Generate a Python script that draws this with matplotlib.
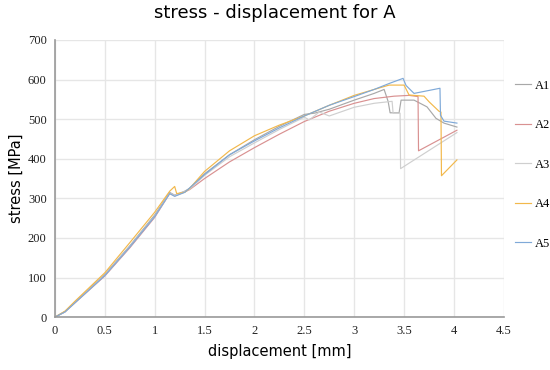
import matplotlib
matplotlib.use("Agg")
import matplotlib.pyplot as plt

# ---- data ----
labels = ["A1", "A2", "A3", "A4", "A5"]
colors = ["#a8a8a8", "#d99191", "#cfcfcf", "#f2b84b", "#7fa9d8"]

a1_x = [0, 0.1, 0.2, 0.5, 0.75, 1.0, 1.15, 1.2, 1.3, 1.35, 1.5, 1.75, 2.0, 2.25, 2.5, 2.6, 2.75, 3.0, 3.2, 3.3, 3.34, 3.36, 3.45, 3.47, 3.6, 3.73, 3.82, 3.9, 4.03]
a1_y = [0, 14, 38, 108, 180, 258, 315, 308, 318, 325, 362, 410, 448, 482, 512, 515, 525, 548, 565, 575, 545, 516, 516, 548, 548, 531, 502, 490, 480]

a2_x = [0, 0.1, 0.2, 0.5, 0.75, 1.0, 1.15, 1.2, 1.3, 1.35, 1.5, 1.75, 2.0, 2.25, 2.5, 2.75, 3.0, 3.2, 3.4, 3.55, 3.64, 3.645, 4.03]
a2_y = [0, 13, 36, 104, 175, 252, 312, 306, 316, 322, 350, 392, 428, 462, 494, 520, 540, 552, 558, 560, 557, 420, 472]

a3_x = [0, 0.1, 0.2, 0.5, 0.75, 1.0, 1.15, 1.2, 1.3, 1.35, 1.5, 1.75, 2.0, 2.25, 2.5, 2.55, 2.65, 2.75, 3.0, 3.2, 3.38, 3.39, 3.46, 3.465, 4.03]
a3_y = [0, 13, 37, 106, 178, 255, 313, 307, 317, 323, 358, 405, 440, 474, 505, 498, 518, 508, 530, 540, 545, 515, 515, 375, 466]

a4_x = [0, 0.1, 0.2, 0.5, 0.75, 1.0, 1.15, 1.2, 1.22, 1.3, 1.35, 1.5, 1.75, 2.0, 2.25, 2.5, 2.75, 3.0, 3.2, 3.35, 3.5, 3.55, 3.7, 3.75, 3.8, 3.85, 3.87, 3.875, 4.03]
a4_y = [0, 15, 40, 112, 188, 265, 318, 330, 312, 315, 325, 368, 420, 458, 485, 508, 535, 560, 575, 586, 586, 561, 558, 544, 532, 520, 518, 357, 397]

a5_x = [0, 0.1, 0.2, 0.5, 0.75, 1.0, 1.15, 1.2, 1.3, 1.5, 1.75, 2.0, 2.25, 2.5, 2.75, 3.0, 3.2, 3.35, 3.49, 3.52, 3.58, 3.6, 3.86, 3.865, 3.9, 4.03]
a5_y = [0, 13, 36, 105, 177, 254, 312, 305, 315, 360, 410, 445, 478, 508, 535, 557, 575, 590, 603, 585, 570, 565, 578, 510, 495, 490]

xs = [a1_x, a2_x, a3_x, a4_x, a5_x]
ys = [a1_y, a2_y, a3_y, a4_y, a5_y]

x_ticks = [0, 0.5, 1, 1.5, 2, 2.5, 3, 3.5, 4, 4.5]
x_ticklabels = ["0", "0.5", "1", "1.5", "2", "2.5", "3", "3.5", "4", "4.5"]
y_ticks = [0, 100, 200, 300, 400, 500, 600, 700]

# ---- figure ----
fig = plt.figure(figsize=(5.5, 3.7), dpi=100)
ax = fig.add_axes([0.1, 0.143, 0.816, 0.749])

for x, y, c, l in zip(xs, ys, colors, labels):
    ax.plot(x, y, color=c, lw=0.85, label=l)

ax.set_xlim(0, 4.5)
ax.set_ylim(0, 700)
ax.set_xticks(x_ticks)
ax.set_xticklabels(x_ticklabels)
ax.set_yticks(y_ticks)
ax.grid(True, color="#e6e6e6", lw=1)
ax.set_axisbelow(True)
for s in ["top", "right"]:
    ax.spines[s].set_visible(False)
for s in ["left", "bottom"]:
    ax.spines[s].set_color("#999999")
    ax.spines[s].set_linewidth(1.2)
ax.tick_params(length=0, pad=6, labelsize=9)
for t in ax.get_xticklabels() + ax.get_yticklabels():
    t.set_family("Liberation Serif")
    t.set_color("#222222")

ax.set_xlabel("displacement [mm]", fontsize=10.5, family="DejaVu Sans", labelpad=5)
ax.set_ylabel("stress [MPa]", fontsize=10.5, family="DejaVu Sans", labelpad=3)
fig.suptitle("stress - displacement for A", fontsize=13, family="DejaVu Sans", y=0.99)

leg = fig.legend(loc="upper left", bbox_to_anchor=(0.915, 0.815), frameon=False,
                 labelspacing=2.2, handlelength=1.3, handletextpad=0.3,
                 prop={"family": "Liberation Serif", "size": 9})

fig.savefig("out.png", dpi=100)
